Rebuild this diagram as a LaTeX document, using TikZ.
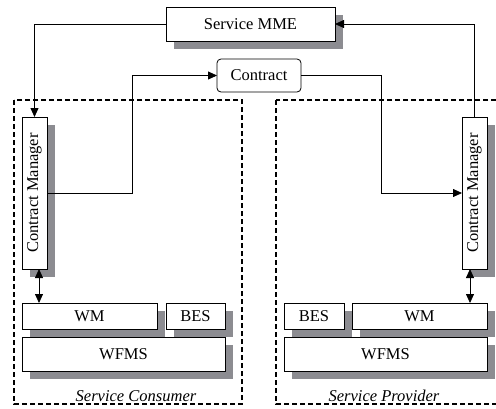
\documentclass[tikz,border=0pt]{standalone}
\usepackage{fontspec}
\setmainfont{Liberation Serif}
\usetikzlibrary{arrows.meta,shadows,calc}
\definecolor{shadowgray}{RGB}{140,140,145}
\begin{document}
\begin{tikzpicture}[x=1pt,y=-1pt,
  box/.style={draw, fill=white, line width=0.8pt, inner sep=0pt, outer sep=0pt,
    font=\fontsize{16.5}{19}\selectfont,
    drop shadow={shadow xshift=8pt, shadow yshift=-8pt, fill=shadowgray, opacity=1}},
  plainbox/.style={draw, fill=white, line width=0.8pt, inner sep=0pt, outer sep=0pt,
    rounded corners=4pt, font=\fontsize{16.5}{19}\selectfont},
  group/.style={draw, line width=1.4pt, dash pattern=on 5pt off 3pt},
  arr/.style={line width=0.8pt, -{Triangle[length=9pt,width=8pt]}},
  darr/.style={line width=0.8pt, {Triangle[length=9pt,width=8pt]}-{Triangle[length=9pt,width=8pt]}},
  lbl/.style={font=\fontsize{16.5}{19}\selectfont\itshape, inner sep=0pt}
]
\useasboundingbox (0,0) rectangle (496,408);
% groups
\draw[group] (14,100) rectangle (242,404);
\draw[group] (276,100) rectangle (502,404);
\node[lbl] (lc) at (136,396) {Service Consumer};
\node[lbl] (lp) at (384,396) {Service Provider};
% nodes
\node[box, minimum width=169pt, minimum height=34pt] (mme) at (250.5,24) {Service MME};
\node[plainbox, minimum width=84pt, minimum height=33pt] (contract) at (259,75.5) {Contract};
\node[box, minimum width=25pt, minimum height=152pt] (lcm) at (34.5,193) {\rotatebox{90}{Contract Manager}};
\node[box, minimum width=25pt, minimum height=152pt] (rcm) at (474.5,193) {\rotatebox{90}{Contract Manager}};
\node[box, minimum width=135pt, minimum height=26pt] (lwm) at (89.5,316) {WM};
\node[box, minimum width=59pt, minimum height=26pt] (lbes) at (195.5,316) {BES};
\node[box, minimum width=203pt, minimum height=34pt] (lwfms) at (123.5,354) {WFMS};
\node[box, minimum width=60pt, minimum height=26pt] (rbes) at (314,316) {BES};
\node[box, minimum width=135pt, minimum height=26pt] (rwm) at (419.5,316) {WM};
\node[box, minimum width=203pt, minimum height=34pt] (rwfms) at (385.5,354) {WFMS};
% connectors
\draw[arr] (mme.west) -| (lcm.north);
\draw[arr] (rcm.north) |- (mme.east);
\draw[arr] (lcm.east) -- ++(85,0) |- (contract.west);
\draw[arr] (contract.east) -- ++(80,0) |- (rcm.west);
\coordinate (la) at ($(lcm.south)+(4.5,0)$);
\coordinate (ra) at ($(rcm.south)+(-4.5,0)$);
\draw[darr] (la) -- (la |- lwm.north);
\draw[darr] (ra) -- (ra |- rwm.north);
\end{tikzpicture}
\end{document}
